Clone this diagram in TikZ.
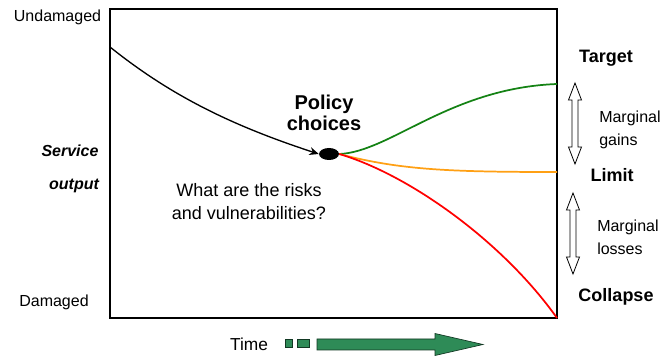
\documentclass[tikz,border=0pt]{standalone}
\usepackage{fontspec}
\setmainfont{Liberation Sans}
\usetikzlibrary{arrows.meta,shapes.geometric}
\definecolor{timegreen}{RGB}{46,139,87}
\definecolor{branchgreen}{RGB}{20,130,20}
\definecolor{branchorange}{RGB}{255,160,20}
\begin{document}
\begin{tikzpicture}[x=0.75pt,y=-0.75pt,
  lbl/.style={font=\fontsize{12}{14}\selectfont, inner sep=0pt},
  boldlbl/.style={font=\fontsize{13.5}{15}\selectfont\bfseries, inner sep=0pt},
  sidelbl/.style={font=\fontsize{12}{17}\selectfont, align=left, inner sep=0pt},
  path/.style={line width=1.3pt},
  hollow/.style={draw=black, fill=white, line width=0.6pt},
  timecol/.style={draw=black!60!timegreen, fill=timegreen, line width=0.5pt}]
\useasboundingbox (0,0) rectangle (665,356);
% frame
\draw[line width=1.5pt] (110,9) rectangle (557,318);
% trajectory up to the decision point
\node[ellipse, fill=black, minimum width=15pt, minimum height=9pt, inner sep=0pt] (dot) at (329,154) {};
\coordinate (start) at (110,47);
\draw[line width=1pt, -{Stealth[length=7pt,width=6pt]}] (start) .. controls (170,95) and (230,125) .. (dot.west);
% branches
\coordinate (target) at (557,84);
\coordinate (limit) at (557,172);
\coordinate (collapse) at (557,318);
\draw[path, branchgreen] (dot.east) .. controls (390,152) and (450,88) .. (target);
\draw[path, branchorange] (dot.east) .. controls (400,170) and (450,172) .. (limit);
\draw[path, red] (dot.east) .. controls (410,175) and (503,242) .. (collapse);
% labels
\node[lbl] (und) at (57.5,17) {Undamaged};
\node[lbl] (dam) at (54,302) {Damaged};
\node[lbl, font=\fontsize{12}{14}\selectfont\bfseries\itshape] (so1) at (70,151) {Service};
\node[lbl, font=\fontsize{12}{14}\selectfont\bfseries\itshape] (so2) at (74,186) {output};
\node[font=\fontsize{15}{17}\selectfont\bfseries, align=center, inner sep=0pt] (pol) at (324,113) {Policy\\[-1pt]choices};
\node[lbl, align=center, font=\fontsize{13.5}{17.3}\selectfont] (risk) at (249,201.5) {What are the risks\\and vulnerabilities?};
\node[boldlbl] (tgt) at (606,58) {Target};
\node[boldlbl] (lim) at (612,175) {Limit};
\node[boldlbl] (col) at (616,297) {Collapse};
\node[sidelbl, anchor=west] (gain) at (599,130) {Marginal\\gains};
\node[sidelbl, anchor=west] (loss) at (597,237) {Marginal\\losses};
% hollow double arrows
\draw[hollow] (575,83) -- (581.5,100) -- (578,100) -- (578,147) -- (581.5,147) -- (575,164) -- (568.5,147) -- (572,147) -- (572,100) -- (568.5,100) -- cycle;
\draw[hollow] (573,193) -- (579.5,210) -- (576,210) -- (576,257) -- (579.5,257) -- (573,274) -- (566.5,257) -- (570,257) -- (570,210) -- (566.5,210) -- cycle;
% time axis
\node[lbl, font=\fontsize{13}{15}\selectfont] (time) at (249,344) {Time};
\draw[timecol] (285,339.5) rectangle (292,347.5);
\draw[timecol] (297,339.5) rectangle (309,347.5);
\draw[timecol] (317,339) -- (435,339) -- (435,333.5) -- (483,344.5) -- (435,355.5) -- (435,350) -- (317,350) -- cycle;
\end{tikzpicture}
\end{document}
